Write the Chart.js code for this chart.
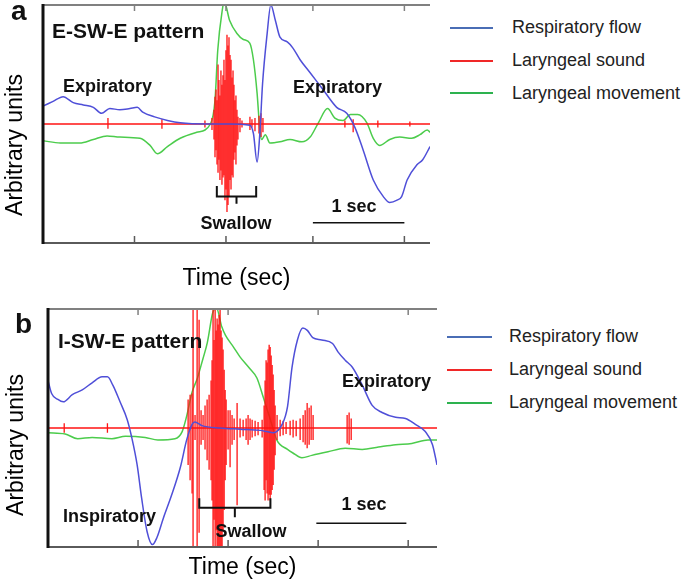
<!DOCTYPE html>
<html>
<head>
<meta charset="utf-8">
<script src="https://cdn.jsdelivr.net/npm/chart.js"></script>
<style>
  html, body { margin: 0; background: #fff; }
  #fig { position: relative; width: 685px; height: 584px; overflow: hidden; }
  canvas { position: absolute; left: 0; }
  #chartA { top: 0; }
  #chartB { top: 292px; }
  .ln { position: absolute; height: 2px; }
  .tx { position: absolute; font: 18px/20px "Liberation Sans", Arial, sans-serif; color: #222; white-space: nowrap; }
</style>
</head>
<body>
<div id="fig">
  <canvas id="chartA" width="440" height="292"></canvas>
  <canvas id="chartB" width="440" height="292"></canvas>

  <!-- legende painel a -->
  <div class="ln" style="left:450px;top:27px;width:43px;background:#4a6db5"></div>
  <div class="tx" style="left:512px;top:17px">Respiratory flow</div>
  <div class="ln" style="left:450px;top:60px;width:43px;background:#f02828"></div>
  <div class="tx" style="left:512px;top:50px">Laryngeal sound</div>
  <div class="ln" style="left:450px;top:92px;width:43px;background:#2db24f"></div>
  <div class="tx" style="left:512px;top:83px">Laryngeal movement</div>

  <!-- legende painel b -->
  <div class="ln" style="left:447px;top:336px;width:45px;background:#4a6db5"></div>
  <div class="tx" style="left:509px;top:326px">Respiratory flow</div>
  <div class="ln" style="left:447px;top:369px;width:45px;background:#f02828"></div>
  <div class="tx" style="left:509px;top:359px">Laryngeal sound</div>
  <div class="ln" style="left:447px;top:402px;width:45px;background:#2db24f"></div>
  <div class="tx" style="left:509px;top:392px">Laryngeal movement</div>
</div>

<script>
// ---------- painel a : E-SW-E (tempo em s, amplitude em unidades arbitrárias) ----------
const spanA = 4.23;
const ticksA = [0, 1, 2, 2.95, 3.95];
const flowA_t = [0.00,0.11,0.22,0.33,0.44,0.55,0.64,0.73,0.84,0.95,1.03,1.09,1.22,1.36,1.50,1.79,2.04,2.26,2.30,2.34,2.37,2.40,2.45,2.49,2.54,2.59,2.67,2.73,2.81,2.92,3.06,3.21,3.32,3.41,3.50,3.61,3.72,3.79,3.87,3.92,3.98,4.09,4.15,4.23];
const flowA_v = [0.15,0.19,0.23,0.18,0.16,0.14,0.09,0.13,0.12,0.13,0.14,0.10,0.06,0.03,0.01,0.00,0.00,-0.01,-0.08,-0.32,-0.08,0.34,0.76,1.00,0.87,0.73,0.69,0.64,0.54,0.43,0.29,0.14,0.09,-0.03,-0.22,-0.47,-0.61,-0.66,-0.64,-0.61,-0.47,-0.34,-0.30,-0.19];
const moveA_t = [0.00,0.19,0.40,0.55,0.70,0.84,1.06,1.17,1.25,1.36,1.50,1.68,1.83,1.88,1.91,1.96,1.98,2.04,2.12,2.19,2.26,2.30,2.34,2.37,2.39,2.43,2.48,2.59,2.70,2.83,2.92,3.01,3.11,3.19,3.28,3.36,3.44,3.54,3.61,3.68,3.79,3.90,4.03,4.12,4.20,4.23];
const moveA_v = [-0.14,-0.16,-0.16,-0.13,-0.10,-0.11,-0.12,-0.18,-0.25,-0.19,-0.12,-0.07,0.00,0.20,0.62,0.96,1.03,0.87,0.76,0.71,0.68,0.54,0.26,-0.05,-0.13,-0.09,-0.16,-0.15,-0.13,-0.15,-0.11,0.01,0.13,0.05,0.03,0.08,0.08,0.01,-0.12,-0.18,-0.13,-0.11,-0.12,-0.09,-0.05,-0.07];
// som laríngeo: picos (máx / mín) em cada instante
const soundA_t  = [0.710,1.300,1.770, 1.847,1.869,1.880,1.891,1.902,1.913,1.923,1.934,1.945,1.956,1.967,1.978,1.989,2.000,2.011,2.022,2.033,2.044,2.055,2.066,2.077,2.087,2.098,2.109,2.120,2.131,2.153,2.175, 2.262,2.284,2.317,2.361,2.383,2.404, 3.300,3.390,3.660,4.010];
const soundA_hi = [0.05,0.04,0.03, 0.05,0.12,0.23,0.29,0.20,0.50,0.37,0.24,0.45,0.33,0.41,0.54,0.37,0.62,0.75,0.66,0.73,0.58,0.54,0.39,0.45,0.33,0.20,0.24,0.12,0.06,0.05,0.03, 0.06,0.04,0.05,0.07,0.09,0.05, 0.03,0.04,0.03,0.02];
const soundA_lo = [-0.04,-0.04,-0.03, -0.05,-0.13,-0.28,-0.22,-0.34,-0.41,-0.30,-0.47,-0.39,-0.51,-0.45,-0.43,-0.64,-0.55,-0.74,-0.68,-0.61,-0.47,-0.55,-0.43,-0.45,-0.30,-0.24,-0.34,-0.18,-0.13,-0.07,-0.03, -0.05,-0.03,-0.06,-0.08,-0.11,-0.07, -0.03,-0.07,-0.03,-0.02];
const swallowA = [1.90, 2.33];
const secBarA = [2.95, 3.95];

// ---------- painel b : I-SW-E ----------
const spanB = 4.32;
const ticksB = [0, 1, 2, 3, 4];
const flowB_t = [0.00,0.04,0.11,0.17,0.27,0.38,0.49,0.60,0.66,0.72,0.80,0.88,0.93,0.99,1.04,1.10,1.16,1.21,1.28,1.37,1.47,1.54,1.60,1.63,1.71,1.91,2.13,2.36,2.43,2.50,2.60,2.66,2.71,2.77,2.83,2.88,2.94,3.04,3.16,3.22,3.30,3.38,3.49,3.60,3.71,3.86,3.97,4.08,4.19,4.27,4.32];
const flowB_v = [0.40,0.29,0.24,0.22,0.28,0.32,0.38,0.43,0.43,0.36,0.22,0.07,-0.08,-0.31,-0.59,-0.87,-0.98,-0.92,-0.76,-0.57,-0.33,-0.10,0.03,0.05,0.02,0.00,-0.01,-0.02,-0.03,-0.04,0.03,0.18,0.51,0.74,0.84,0.82,0.76,0.74,0.71,0.64,0.57,0.51,0.36,0.19,0.13,0.09,0.08,0.03,-0.03,-0.14,-0.31];
const moveB_t = [0.00,0.19,0.33,0.49,0.71,0.86,1.08,1.22,1.41,1.49,1.54,1.60,1.66,1.69,1.72,1.77,1.83,1.87,1.93,1.97,2.06,2.13,2.24,2.32,2.39,2.47,2.54,2.66,2.72,2.82,2.93,3.11,3.30,3.49,3.67,3.86,4.04,4.22,4.32];
const moveB_v = [-0.04,-0.05,-0.09,-0.08,-0.09,-0.07,-0.08,-0.10,-0.09,-0.03,0.10,0.30,0.42,0.50,0.58,0.72,0.97,1.01,0.85,0.78,0.68,0.60,0.50,0.42,0.26,0.07,-0.10,-0.18,-0.21,-0.25,-0.23,-0.20,-0.17,-0.18,-0.16,-0.14,-0.13,-0.10,-0.10];
const soundB_t  = [0.180,0.660,1.556,1.578,1.600,1.611,1.633,1.656,1.678,1.700,1.722,1.744,1.767,1.789,1.811,1.822,1.833,1.844,1.856,1.867,1.878,1.889,1.900,1.911,1.922,1.933,1.944,1.956,1.967,1.978,2.000,2.022,2.044,2.067,2.100,2.133,2.167,2.200,2.222,2.244,2.267,2.300,2.333,2.378,2.400,2.411,2.422,2.433,2.444,2.456,2.467,2.478,2.489,2.500,2.511,2.522,2.544,2.578,2.611,2.644,2.689,2.722,2.756,2.800,2.833,2.856,2.878,2.900,2.922,2.944,3.322,3.344,3.367];
const soundB_hi = [0.04,0.04,0.24,0.28,0.29,1.05,0.11,1.05,0.91,0.15,0.11,0.19,0.24,0.28,0.40,0.57,1.05,0.74,1.05,0.82,0.92,0.87,0.95,1.05,0.82,0.76,0.66,0.49,0.32,0.24,0.15,0.15,0.11,0.08,0.21,0.08,0.07,0.08,0.11,0.08,0.07,0.06,0.05,0.07,0.19,0.40,0.57,0.55,0.66,0.70,0.68,0.61,0.53,0.45,0.32,0.19,0.11,0.07,0.06,0.05,0.06,0.07,0.06,0.08,0.11,0.15,0.21,0.17,0.19,0.11,0.11,0.13,0.08];
const soundB_lo = [-0.04,-0.04,-0.31,-0.44,-0.55,-1.05,-0.10,-1.05,-0.88,-0.14,-0.10,-0.18,-0.27,-0.35,-0.44,-0.61,-1.05,-0.77,-1.05,-0.86,-1.05,-1.05,-1.05,-1.05,-1.05,-1.05,-0.86,-0.69,-0.44,-0.31,-0.18,-0.33,-0.14,-0.10,-0.65,-0.08,-0.07,-0.10,-0.14,-0.10,-0.08,-0.07,-0.06,-0.08,-0.52,-0.61,-0.44,-0.55,-0.61,-0.56,-0.61,-0.56,-0.52,-0.48,-0.35,-0.23,-0.10,-0.07,-0.06,-0.05,-0.06,-0.08,-0.07,-0.10,-0.12,-0.14,-0.17,-0.14,-0.10,-0.10,-0.13,-0.14,-0.10];
const swallowB = [1.68, 2.47];
const secBarB = [2.98, 3.98];

// ---------- estilo ----------
const FONT = '"Liberation Sans", Arial, Helvetica, sans-serif';
Chart.defaults.font.family = FONT;
Chart.defaults.color = '#000';
const BLUE = '#4f4fd8', RED = '#ff1212', GREEN = '#4ccc4c';

function pts(t, v) { return t.map((x, i) => ({ x, y: v[i] })); }
function spikes(t, hi, lo) { return t.map((x, i) => ({ x, y: [lo[i], hi[i]] })); }

function seg(ctx, x1, y1, x2, y2, color, w) {
  ctx.strokeStyle = color; ctx.lineWidth = w;
  ctx.beginPath(); ctx.moveTo(x1, y1); ctx.lineTo(x2, y2); ctx.stroke();
}

// moldura, chave "Swallow", barra de 1 s e rótulos
function overlay(p) {
  return {
    id: 'overlay',
    afterDraw(chart) {
      const { ctx, chartArea: a, scales: { x, y } } = chart;
      ctx.save();
      seg(ctx, a.left, a.top, a.right, a.top, '#808080', 2);
      seg(ctx, a.left, a.bottom, a.right, a.bottom, '#5a5a5a', 2);
      p.ticks.forEach(t => {
        const px = x.getPixelForValue(t);
        seg(ctx, px, a.bottom, px, a.bottom - 7, '#5a5a5a', 1.5);
        seg(ctx, px, a.top, px, a.top + 6, '#808080', 1.5);
      });
      seg(ctx, a.left, a.top - 1, a.left, a.bottom + 1, '#111', 3);

      // chave
      const b0 = x.getPixelForValue(p.swallow[0]), b1 = x.getPixelForValue(p.swallow[1]);
      const bm = (b0 + b1) / 2;
      const yt = y.getPixelForValue(p.brace[0]), ym = y.getPixelForValue(p.brace[1]), yb = y.getPixelForValue(p.brace[2]);
      ctx.strokeStyle = '#111'; ctx.lineWidth = 2;
      ctx.beginPath();
      ctx.moveTo(b0, yt); ctx.lineTo(b0, ym); ctx.lineTo(b1, ym); ctx.lineTo(b1, yt);
      ctx.moveTo(bm, ym); ctx.lineTo(bm, yb);
      ctx.stroke();

      // barra de escala 1 s
      const sy = y.getPixelForValue(p.barY);
      seg(ctx, x.getPixelForValue(p.secBar[0]), sy, x.getPixelForValue(p.secBar[1]), sy, '#111', 1.5);

      // textos
      ctx.fillStyle = '#111';
      ctx.textBaseline = 'alphabetic';
      p.notes.forEach(n => {
        ctx.font = 'bold ' + n.size + 'px ' + FONT;
        ctx.textAlign = n.align || 'left';
        ctx.fillText(n.text, n.x, n.y);
      });

      // título do eixo y
      ctx.translate(p.yTitle[0], p.yTitle[1]);
      ctx.rotate(-Math.PI / 2);
      ctx.font = '23px ' + FONT;
      ctx.textAlign = 'center';
      ctx.textBaseline = 'middle';
      ctx.fillStyle = '#000';
      ctx.fillText('Arbitrary units', 0, 0);
      ctx.restore();
    }
  };
}

function makeChart(id, p) {
  return new Chart(document.getElementById(id), {
    type: 'line',
    data: {
      datasets: [
        { label: 'Respiratory flow', data: pts(p.flowT, p.flowV), borderColor: BLUE, borderWidth: 1.5,
          pointRadius: 0, cubicInterpolationMode: 'monotone' },
        { label: 'Laryngeal sound', type: 'bar', data: spikes(p.soundT, p.soundHi, p.soundLo),
          backgroundColor: RED, borderWidth: 0, barThickness: 1.3, inflateAmount: 0 },
        { label: 'Laryngeal sound (baseline)', data: [{ x: 0, y: 0 }, { x: p.span, y: 0 }],
          borderColor: RED, borderWidth: 1.5, pointRadius: 0 },
        { label: 'Laryngeal movement', data: pts(p.moveT, p.moveV), borderColor: GREEN, borderWidth: 1.5,
          pointRadius: 0, cubicInterpolationMode: 'monotone' }
      ]
    },
    options: {
      responsive: false,
      animation: false,
      events: [],
      layout: { padding: { left: 0, right: p.padRight, top: p.padTop, bottom: 0 } },
      plugins: { legend: { display: false }, tooltip: { enabled: false } },
      scales: {
        x: {
          type: 'linear', min: 0, max: p.span, offset: false,
          grid: { display: false }, border: { display: false }, ticks: { display: false },
          title: { display: true, text: 'Time (sec)', font: { size: 23 }, color: '#000',
                   padding: { top: 0, bottom: p.titlePad } },
          afterFit: s => { s.height = p.xH; }
        },
        y: {
          type: 'linear', min: -1, max: 1,
          grid: { display: false }, border: { display: false }, ticks: { display: false },
          afterFit: s => { s.width = p.yW; }
        }
      }
    },
    plugins: [overlay(p)]
  });
}

makeChart('chartA', {
  span: spanA, ticks: ticksA,
  flowT: flowA_t, flowV: flowA_v, moveT: moveA_t, moveV: moveA_v,
  soundT: soundA_t, soundHi: soundA_hi, soundLo: soundA_lo,
  swallow: swallowA, brace: [-0.52, -0.61, -0.67], secBar: secBarA, barY: -0.83,
  padTop: 5, padRight: 10, xH: 49, yW: 43, titlePad: 0,
  yTitle: [16, 145],
  notes: [
    { text: 'a', size: 28, x: 11, y: 20 },
    { text: 'E-SW-E pattern', size: 21, x: 52, y: 38 },
    { text: 'Expiratory', size: 18, x: 63, y: 92 },
    { text: 'Expiratory', size: 18, x: 293, y: 93 },
    { text: 'Swallow', size: 18, x: 236, y: 229, align: 'center' },
    { text: '1 sec', size: 18, x: 354, y: 212, align: 'center' }
  ]
});

makeChart('chartB', {
  span: spanB, ticks: ticksB,
  flowT: flowB_t, flowV: flowB_v, moveT: moveB_t, moveV: moveB_v,
  soundT: soundB_t, soundHi: soundB_hi, soundLo: soundB_lo,
  swallow: swallowB, brace: [-0.59, -0.67, -0.75], secBar: secBarB, barY: -0.80,
  padTop: 17, padRight: 3, xH: 37, yW: 48, titlePad: 3,
  yTitle: [17, 153],
  notes: [
    { text: 'b', size: 28, x: 15, y: 41 },
    { text: 'I-SW-E pattern', size: 21, x: 58, y: 56 },
    { text: 'Expiratory', size: 18, x: 342, y: 95 },
    { text: 'Inspiratory', size: 18, x: 63, y: 230 },
    { text: 'Swallow', size: 18, x: 251, y: 245, align: 'center' },
    { text: '1 sec', size: 18, x: 364, y: 218, align: 'center' }
  ]
});
</script>
</body>
</html>
